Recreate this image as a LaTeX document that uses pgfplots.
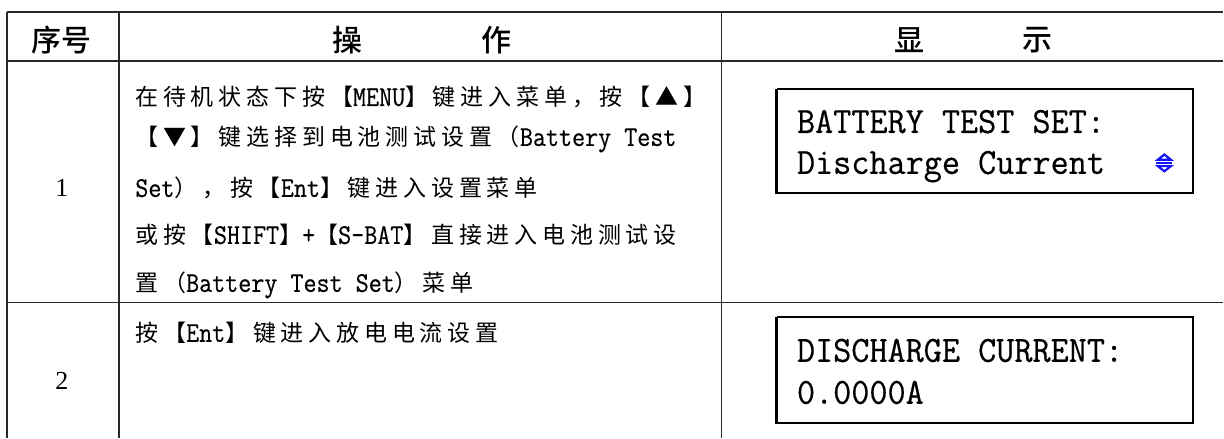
\documentclass[border=0pt]{standalone}
\usepackage{fontspec}
\usepackage{graphicx}
\usepackage{pgfplots}
\pgfplotsset{compat=1.18}
\usetikzlibrary{shapes.geometric}
\newfontfamily\cjk[LetterSpace=21]{Noto Sans CJK SC}
\newfontfamily\cjkh{Noto Sans CJK SC Medium}
\newfontfamily\serif{Liberation Serif}
\newfontfamily\monob[FakeBold=0.4]{Latin Modern Mono}
\newfontfamily\lcdf[FakeBold=0.5]{Latin Modern Mono}
\newcommand\C[1]{{\cjk\fontsize{11.5}{14}\selectfont #1}}
\newcommand\E[1]{\scalebox{1}[1.13]{\monob\fontsize{12.67}{14}\selectfont #1}}
\newcommand\lcd[1]{\scalebox{1}[1.05]{\lcdf\fontsize{17.6}{20}\selectfont #1}}
\definecolor{rule}{RGB}{40,40,40}
\definecolor{arrowblue}{RGB}{20,20,250}
\begin{document}
\begin{tikzpicture}
\begin{axis}[width=612pt, height=219pt, scale only axis,
  xmin=0, xmax=1224, ymin=0, ymax=438, y dir=reverse,
  hide axis, clip=false]
% frame for bounding box
\addplot[draw=none] coordinates {(0,0) (1224,438)};
% table rules
\addplot[rule, line width=0.65pt] coordinates {(7,12) (1224,12)};
\addplot[rule, line width=0.6pt] coordinates {(7,61) (1224,61)};
\addplot[rule, line width=0.6pt] coordinates {(7,303) (1224,303)};
\addplot[rule, line width=0.6pt] coordinates {(7,12) (7,438)};
\addplot[rule, line width=0.6pt] coordinates {(119,12) (119,438)};
\addplot[rule, line width=0.6pt] coordinates {(722,12) (722,438)};
% LCD boxes
\addplot[black, line width=1.1pt, line join=miter] coordinates {(777,89) (1194,89) (1194,193) (777,193) (777,89)};
\addplot[black, line width=1.1pt, line join=miter] coordinates {(777,317) (1194,317) (1194,423) (777,423) (777,317)};
% header
\node[inner sep=0] at (axis cs:62,40) {\cjkh\fontsize{15}{18}\selectfont 序号};
\node[inner sep=0] at (axis cs:348,40) {\cjkh\fontsize{15}{18}\selectfont 操};
\node[inner sep=0] at (axis cs:497,40) {\cjkh\fontsize{15}{18}\selectfont 作};
\node[inner sep=0] at (axis cs:910,40) {\cjkh\fontsize{15}{18}\selectfont 显};
\node[inner sep=0] at (axis cs:1038,40) {\cjkh\fontsize{15}{18}\selectfont 示};
% row numbers
\node[inner sep=0] at (axis cs:62,188) {\serif\fontsize{13}{15}\selectfont 1};
\node[inner sep=0] at (axis cs:62,381) {\serif\fontsize{13}{15}\selectfont 2};
% row 1 text
\node[inner sep=0, anchor=base west] at (axis cs:135,106) {\C{在待机状态下按【}\E{MENU}\C{】键进入菜单，按【▲】}};
\node[inner sep=0, anchor=base west] at (axis cs:135,146) {\C{【▼】键选择到电池测试设置（}\E{Battery Test}};
\node[inner sep=0, anchor=base west] at (axis cs:135,197) {\E{Set}\C{），按【}\E{Ent}\C{】键进入设置菜单}};
\node[inner sep=0, anchor=base west] at (axis cs:135,244) {\C{或按【}\E{SHIFT}\C{】}\E{+}\C{【}\E{S-BAT}\C{】直接进入电池测试设}};
\node[inner sep=0, anchor=base west] at (axis cs:135,292) {\C{置（}\E{Battery Test Set}\C{）菜单}};
% row 2 text
\node[inner sep=0, anchor=base west] at (axis cs:135,342) {\C{按【}\E{Ent}\C{】键进入放电电流设置}};
% LCD texts
\node[inner sep=0, anchor=base west] at (axis cs:797,133) {\lcd{BATTERY TEST SET:}};
\node[inner sep=0, anchor=base west] at (axis cs:797,174) {\lcd{Discharge Current}};
\node[inner sep=0, anchor=base west] at (axis cs:797,362) {\lcd{DISCHARGE CURRENT:}};
\node[inner sep=0, anchor=base west] at (axis cs:797,404) {\lcd{0.0000A}};
% up/down symbol
\node[isosceles triangle, isosceles triangle stretches, shape border rotate=90,
  draw=arrowblue, line width=1.1pt, inner sep=0, minimum width=6.5pt, minimum height=2.6pt]
  at (axis cs:1165,157.5) {};
\node[isosceles triangle, isosceles triangle stretches, shape border rotate=-90,
  draw=arrowblue, line width=1.1pt, inner sep=0, minimum width=6.5pt, minimum height=2.6pt]
  at (axis cs:1165,168.5) {};
\node[inner sep=0, fill=arrowblue, minimum width=8pt, minimum height=1pt] at (axis cs:1165,163) {};
\end{axis}
\end{tikzpicture}
\end{document}
